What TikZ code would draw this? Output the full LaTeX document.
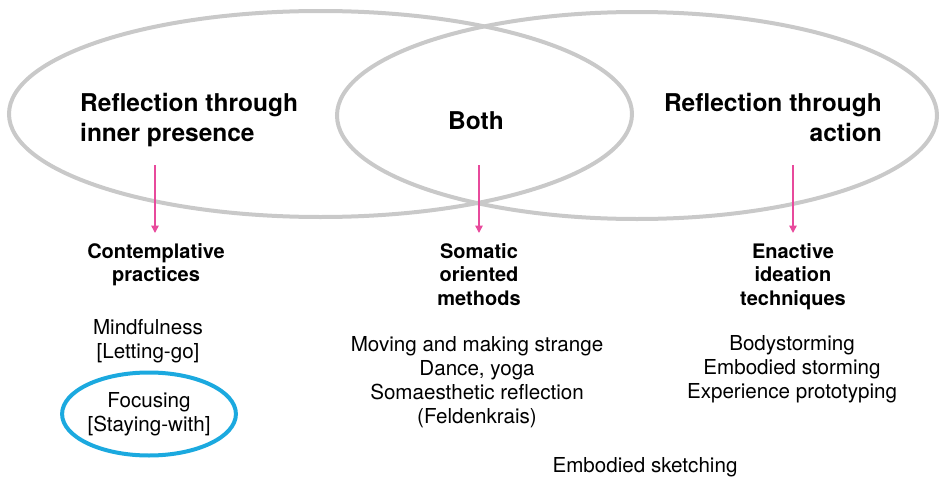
\documentclass[tikz,border=0pt]{standalone}
\usepackage{fontspec}
\setmainfont{TeX Gyre Heros}
\usetikzlibrary{arrows.meta,shapes.geometric}

\definecolor{venngray}{HTML}{C9C9C9}
\definecolor{arrowpink}{HTML}{E84A9C}
\definecolor{ringcyan}{HTML}{1BA9DF}

\tikzset{
  venn/.style={draw=venngray, line width=4pt},
  bigtitle/.style={inner sep=0pt, font=\bfseries\fontsize{24.5}{30}\selectfont},
  heading/.style={inner sep=0pt, anchor=north, align=center, font=\bfseries\fontsize{20}{23.5}\selectfont},
  items/.style={inner sep=0pt, align=center, font=\fontsize{20.6}{24}\selectfont},
  flow/.style={draw=arrowpink, line width=1.5pt, shorten >=10pt,
    -{Triangle[length=7.5pt,width=7.5pt]}},
  ring/.style={draw=ringcyan, line width=4pt, ellipse, minimum width=171pt, minimum height=83pt}
}

\begin{document}
\begin{tikzpicture}[x=1pt, y=-1pt]
  \useasboundingbox (0,0) rectangle (940,479);

  % the two overlapping sets
  \draw[venn] (320.5,114) ellipse [x radius=311.5, y radius=103];
  \draw[venn] (637,115.5) ellipse [x radius=300, y radius=103.5];

  % set titles
  \node[bigtitle, anchor=north west, align=left] (inner) at (80,93)
    {Reflection through\\inner presence};
  \node[bigtitle, anchor=center] (both) at (476,121) {Both};
  \node[bigtitle, anchor=north east, align=right] (action) at (882,93)
    {Reflection through\\action};

  % arrow origins
  \coordinate (s1) at (155,165);
  \coordinate (s2) at (479,165);
  \coordinate (s3) at (793,165);

  % practice families
  \node[heading] (contemp) at (156,243) {Contemplative\\practices};
  \node[heading] (somatic) at (479,243) {Somatic\\oriented\\methods};
  \node[heading] (enactive) at (793,243) {Enactive\\ideation\\techniques};

  \draw[flow] (s1) -- (s1 |- contemp.north);
  \draw[flow] (s2) -- (somatic.north);
  \draw[flow] (s3) -- (enactive.north);

  % examples
  \node[items] (mind) at (148,341) {Mindfulness\\{[}Letting-go{]}};
  \node[items, ring] (focus) at (149,414) {Focusing\\{[}Staying-with{]}};
  \node[items] (somlist) at (477,382)
    {Moving and making strange\\Dance, yoga\\Somaesthetic reflection\\(Feldenkrais)};
  \node[items] (enlist) at (792,369)
    {Bodystorming\\Embodied storming\\Experience prototyping};
  \node[items] (sketch) at (645,467) {Embodied sketching};
\end{tikzpicture}
\end{document}
